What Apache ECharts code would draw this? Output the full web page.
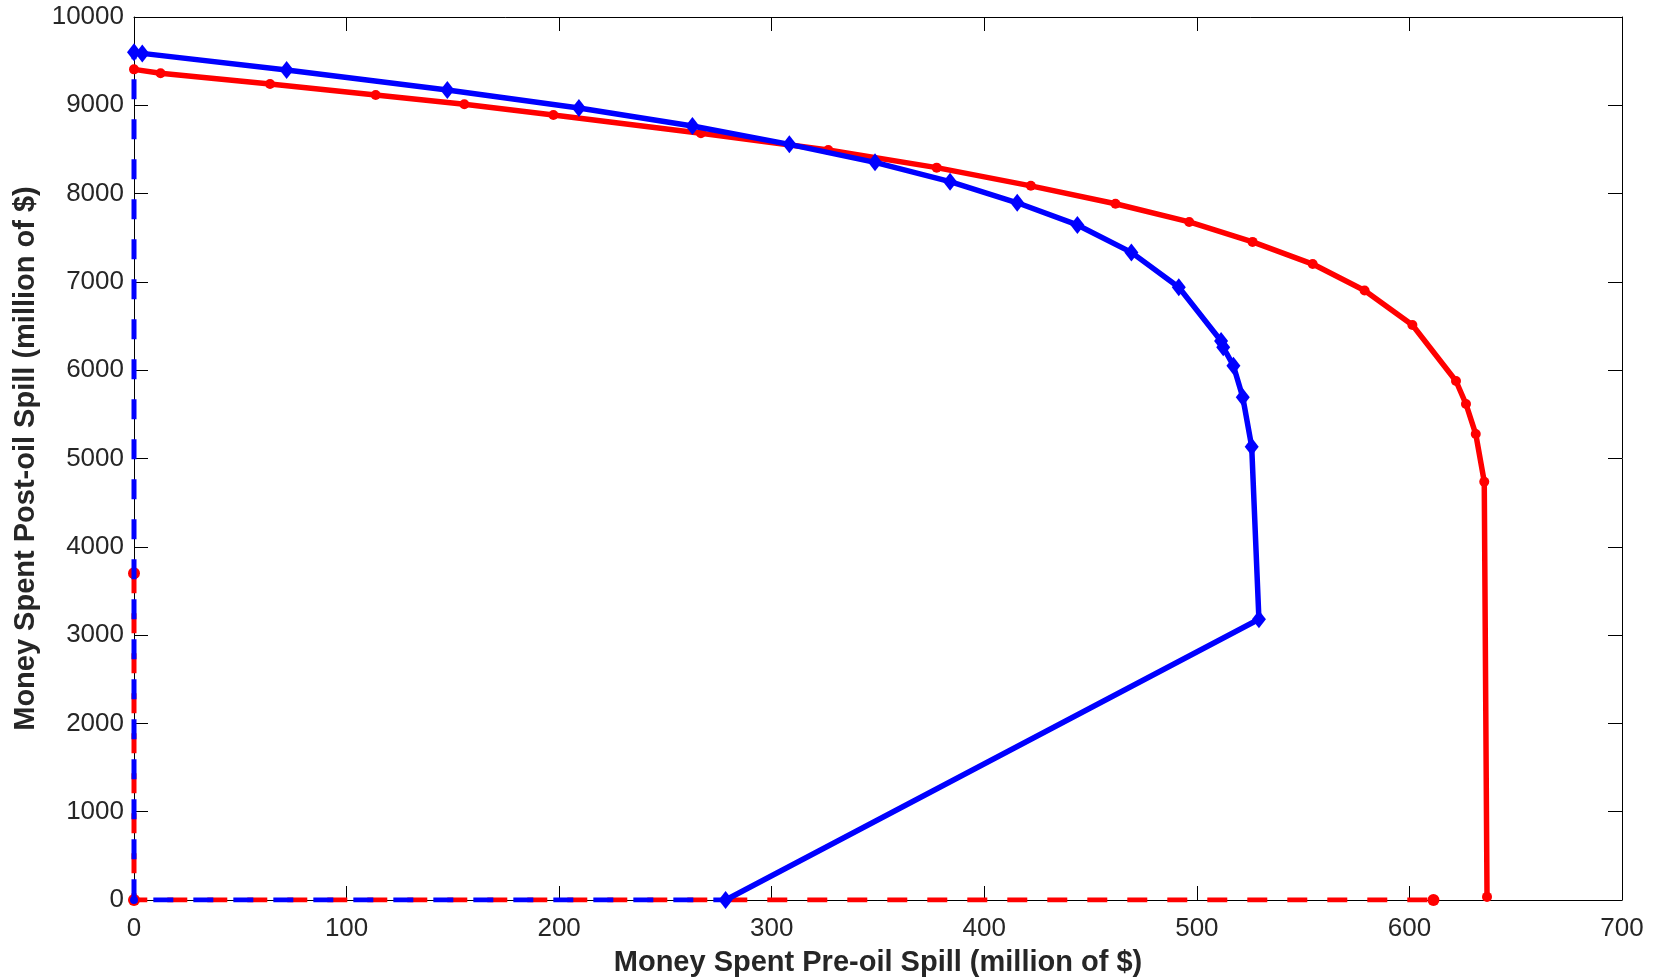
<!DOCTYPE html>
<html>
<head>
<meta charset="utf-8">
<script src="https://cdn.jsdelivr.net/npm/echarts@6/dist/echarts.min.js"></script>
<style>
  html, body { margin: 0; padding: 0; background: #fff; }
  #chart { width: 1656px; height: 979px; }
</style>
</head>
<body>
<div id="chart"></div>
<script>
// --------------------------
// data
// --------------------------
const blueX = [0, 3.9, 71.8, 147.4, 209.3, 262.7, 308.3, 348.6, 383.9, 415.5, 443.8, 469.2, 491.5, 511.4, 512.4, 517.2, 521.6, 525.8, 529.2, 278.3]
const blueY = [9600, 9588, 9400, 9173, 8970, 8766, 8558, 8354, 8135, 7896, 7645, 7334, 6939, 6330, 6260, 6051, 5693, 5134, 3179, 0]

const redX = [0, 12.5, 64.0, 113.7, 155.4, 197.3, 266.7, 326.6, 377.6, 421.9, 461.7, 496.4, 526.2, 554.5, 578.9, 601.4, 621.9, 626.6, 631.2, 635.2, 636.5]
const redY = [9407, 9362, 9241, 9117, 9011, 8890, 8683, 8494, 8294, 8088, 7885, 7679, 7453, 7202, 6903, 6512, 5878, 5617, 5277, 4737, 35]

// dashed boundary lines
const blueDashX = [0, 0, 278.3]
const blueDashY = [9600, 0, 0]
const redDashX = [0, 0, 611.3]
const redDashY = [3700, 0, 0]

const xTicks = [0, 100, 200, 300, 400, 500, 600, 700]
const yTicks = [0, 1000, 2000, 3000, 4000, 5000, 6000, 7000, 8000, 9000, 10000]

const xName = 'Money Spent Pre-oil Spill (million of $)'
const yName = 'Money Spent Post-oil Spill (million of $)'

const zip = (xs, ys) => xs.map((x, i) => [x, ys[i]])

const BLUE = '#0000ff'
const RED = '#ff0000'
const FONT = 'Liberation Sans, Arial, sans-serif'
const TXT = '#262626'

const chart = echarts.init(document.getElementById('chart'), null, { renderer: 'canvas' })

const axisCommon = {
  type: 'value',
  axisLine: { show: true, onZero: false, lineStyle: { color: '#000', width: 1 } },
  axisTick: { show: true, inside: true, length: 14, lineStyle: { color: '#000', width: 1 } },
  splitLine: { show: false }
}

chart.setOption({
  animation: false,
  backgroundColor: '#fff',
  grid: { left: 134, right: 34, top: 17, bottom: 79, containLabel: false, outerBoundsMode: 'none' },
  xAxis: [
    {
      ...axisCommon,
      position: 'bottom',
      min: xTicks[0], max: xTicks[xTicks.length - 1], interval: 100,
      axisLabel: { color: TXT, fontSize: 26, fontFamily: FONT, margin: 16, formatter: v => String(v) },
      name: xName,
      nameLocation: 'middle',
      nameGap: 48,
      nameTextStyle: { color: TXT, fontSize: 29, fontWeight: 'bold', fontFamily: FONT }
    },
    {
      ...axisCommon,
      position: 'top',
      min: xTicks[0], max: xTicks[xTicks.length - 1], interval: 100,
      axisLabel: { show: false }
    }
  ],
  yAxis: [
    {
      ...axisCommon,
      position: 'left',
      min: yTicks[0], max: yTicks[yTicks.length - 1], interval: 1000,
      axisLabel: { color: TXT, fontSize: 26, fontFamily: FONT, margin: 10, formatter: v => String(v) },
      name: yName,
      nameLocation: 'middle',
      nameGap: 81,
      nameRotate: 90,
      nameTextStyle: { color: TXT, fontSize: 29, fontWeight: 'bold', fontFamily: FONT }
    },
    {
      ...axisCommon,
      position: 'right',
      min: yTicks[0], max: yTicks[yTicks.length - 1], interval: 1000,
      axisLabel: { show: false }
    }
  ],
  series: [
    {
      type: 'line',
      data: zip(redDashX, redDashY),
      symbol: 'circle',
      symbolSize: 12,
      lineStyle: { color: RED, width: 5, type: [20, 20] },
      itemStyle: { color: RED },
      z: 2
    },
    {
      type: 'line',
      data: zip(blueDashX, blueDashY),
      symbol: 'circle',
      symbolSize: (v, p) => (p.dataIndex === 1 ? 8 : 0),
      lineStyle: { color: BLUE, width: 5, type: [20, 20], dashOffset: 13 },
      itemStyle: { color: BLUE },
      z: 3
    },
    {
      type: 'line',
      data: zip(redX, redY),
      symbol: 'circle',
      symbolSize: 10,
      lineStyle: { color: RED, width: 5.5 },
      itemStyle: { color: RED },
      z: 4
    },
    {
      type: 'line',
      data: zip(blueX, blueY),
      symbol: 'diamond',
      symbolSize: [14, 18],
      lineStyle: { color: BLUE, width: 5.5 },
      itemStyle: { color: BLUE },
      z: 5
    }
  ]
})
</script>
</body>
</html>
